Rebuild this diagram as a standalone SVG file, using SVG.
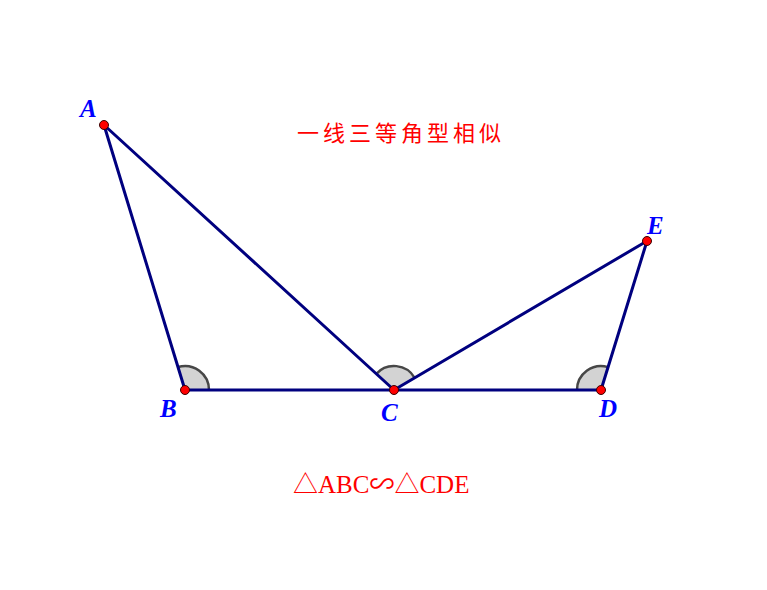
<svg xmlns="http://www.w3.org/2000/svg" width="767" height="590" viewBox="0 0 767 590">
<style>
.seg{stroke:#00007f;stroke-width:3;fill:none;stroke-linecap:round}
.sec{fill:#d3d3d3;stroke:none}
.arc{fill:none;stroke:#474747;stroke-width:2.5}
.pt{fill:#ff0000;stroke:#3a0000;stroke-width:1}
.lbl{font-family:"Liberation Serif",serif;font-style:italic;font-weight:bold;font-size:25px;fill:#0000ff}
.red{fill:#ff0000}
</style>
<rect width="767" height="590" fill="#ffffff"/>
<g id="angles">
<path class="sec" d="M185,390 L178.0,367.05 A24,24 0 0 1 209,390 Z"/>
<path class="arc" d="M178.0,367.05 A24,24 0 0 1 209,390"/>
<path class="sec" d="M394,390 L376.28,373.81 A24,24 0 0 1 414.68,377.82 Z"/>
<path class="arc" d="M376.28,373.81 A24,24 0 0 1 414.68,377.82"/>
<path class="sec" d="M601,390 L577,390 A24,24 0 0 1 608.08,367.07 Z"/>
<path class="arc" d="M577,390 A24,24 0 0 1 608.08,367.07"/>
</g>
<g id="connectors">
<line class="seg" x1="104" y1="125" x2="185" y2="390"/>
<line class="seg" x1="104" y1="125" x2="394" y2="390"/>
<line class="seg" x1="185" y1="390" x2="601" y2="390"/>
<line class="seg" x1="394" y1="390" x2="647" y2="241"/>
<line class="seg" x1="647" y1="241" x2="601" y2="390"/>
</g>
<g id="node-A"><circle class="pt" cx="104" cy="125" r="4.5"/><text class="lbl" x="80" y="117">A</text></g>
<g id="node-B"><circle class="pt" cx="185" cy="390" r="4.5"/><text class="lbl" x="160" y="417">B</text></g>
<g id="node-C"><circle class="pt" cx="394" cy="390" r="4.5"/><text class="lbl" x="381" y="421">C</text></g>
<g id="node-D"><circle class="pt" cx="601" cy="390" r="4.5"/><text class="lbl" x="599" y="417">D</text></g>
<g id="node-E"><circle class="pt" cx="647" cy="241" r="4.5"/><text class="lbl" x="647" y="234">E</text></g>
<text class="red" x="297" y="141" font-family="'Noto Sans CJK SC',sans-serif" font-size="22" letter-spacing="4">一线三等角型相似</text>
<text class="red" x="293" y="493" font-family="'Liberation Serif','Noto Sans CJK SC',serif" font-size="25">△ABC∽△CDE</text>
</svg>
